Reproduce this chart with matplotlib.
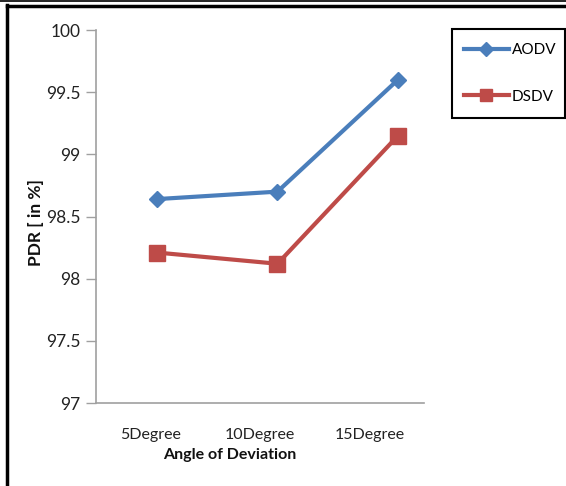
import numpy as np
import matplotlib
matplotlib.use('Agg')
import matplotlib.pyplot as plt
from matplotlib.lines import Line2D
from matplotlib.patches import Rectangle

# Data
categories = ['5Degree', '10Degree', '15Degree']
aodv = [98.64, 98.70, 99.60]
dsdv = [98.21, 98.12, 99.15]
y_ticks = [97, 97.5, 98, 98.5, 99, 99.5, 100]
y_tick_labels = ['97', '97.5', '98', '98.5', '99', '99.5', '100']

plt.rcParams['font.family'] = ['Lato', 'DejaVu Sans']

W, H = 566, 486
fig = plt.figure(figsize=(W / 100, H / 100), dpi=100)
ax = fig.add_axes([96 / W, 1 - 403 / H, (424 - 96) / W, (403 - 30) / H])

x = np.arange(len(categories))
ax.plot(x, aodv, color='#4A7EBB', lw=3, marker='D', ms=8, label='AODV', zorder=3)
ax.plot(x, dsdv, color='#BE4B48', lw=3, marker='s', ms=11, label='DSDV', zorder=3)

# x range so the points sit where they do in the picture
lo, hi = -0.506, 2.216
ax.set_xlim(lo, hi)
ax.set_ylim(97, 100)

# category labels centred in equal slots of the axis
slot = (hi - lo) / len(categories)
ax.set_xticks(lo + (np.arange(len(categories)) + 0.5) * slot)
ax.set_xticklabels(categories, fontsize=11.5, color='#222222')
ax.tick_params(axis='x', length=0, pad=18)

ax.set_yticks(y_ticks)
ax.set_yticklabels(y_tick_labels, fontsize=12.5, color='#222222')
ax.tick_params(axis='y', length=7, width=1, color='#A0A0A0', pad=4)

for s in ['top', 'right']:
    ax.spines[s].set_visible(False)
for s in ['left', 'bottom']:
    ax.spines[s].set_color('#A0A0A0')
    ax.spines[s].set_linewidth(1.2)

ax.set_xlabel('Angle of Deviation', fontsize=11.5, fontweight='bold', color='#111111')
ax.xaxis.set_label_coords((230 - 96) / 328, -(455 - 403) / 373)
ax.xaxis.label.set_va('center')
ax.set_ylabel('PDR [ in %]', fontsize=12.5, fontweight='bold', color='#111111')
ax.yaxis.set_label_coords(-(96 - 36) / 328, 0.485)
ax.yaxis.label.set_va('center')

# legend box drawn on its own, entries placed inside it
box = (452, 29, 565, 118)
fig.add_artist(Rectangle((box[0] / W, 1 - box[3] / H), (box[2] - box[0]) / W, (box[3] - box[1]) / H,
                         transform=fig.transFigure, fill=False, edgecolor='black', lw=1.5))
leg = ax.legend(loc='center', bbox_to_anchor=((box[0] + box[2]) / 2 / W + 0.003, 1 - (box[1] + box[3]) / 2 / H),
                bbox_transform=fig.transFigure, frameon=False, fontsize=11, handlelength=2.9,
                labelspacing=2.1, handletextpad=0.2, borderpad=0)
for h in leg.legend_handles:
    h.set_markersize(7 if h.get_marker() == 'D' else 9)

# page frame around the chart
fig.add_artist(Line2D([0, 1], [1 - 1.5 / H, 1 - 1.5 / H], transform=fig.transFigure, color='black', lw=1.2))
fig.add_artist(Line2D([6.5 / W, 1], [1 - 6 / H, 1 - 6 / H], transform=fig.transFigure, color='black', lw=2.5))
fig.add_artist(Line2D([7 / W, 7 / W], [0, 1 - 5 / H], transform=fig.transFigure, color='black', lw=2.5))

fig.savefig('out.png', dpi=100)
